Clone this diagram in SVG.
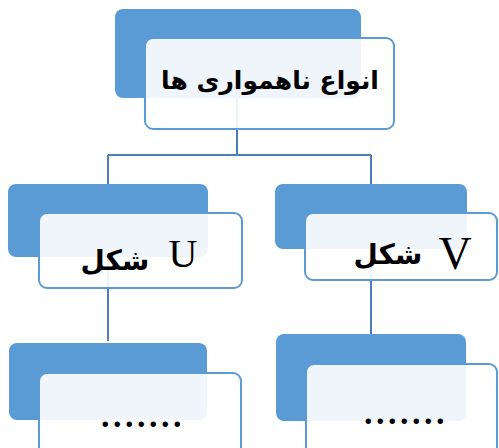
<svg xmlns="http://www.w3.org/2000/svg" width="499" height="448" viewBox="0 0 499 448">
<style>
.back{fill:#5B9BD5;}
.front{fill:#FFFFFF;fill-opacity:0.9;stroke:#5B9BD5;stroke-width:2;}
.conn{fill:none;stroke:#4A7EBB;stroke-width:2;}
.fa{font-family:"DejaVu Sans",sans-serif;font-weight:bold;fill:#000;}
.lat{font-family:"Liberation Serif",serif;fill:#000;}
.dots{font-family:"Liberation Serif",serif;font-weight:bold;font-size:34px;letter-spacing:3.5px;fill:#000;}
</style>
<rect width="499" height="448" fill="#FFFFFF"/>
<g id="connectors">
<path class="conn" d="M237,98 V155 M108,155 H371 M108,155 V184 M371,155 V184 M108,257 V341 M371,249 V334"/>
</g>
<g id="node-root">
<rect class="back" x="115" y="9" width="246" height="89" rx="8"/>
<rect class="front" x="145" y="38" width="249" height="91" rx="8"/>
<text class="fa" x="270" y="89" font-size="25" text-anchor="middle" direction="rtl">انواع ناهمواری ها</text>
</g>
<g id="node-u">
<rect class="back" x="8" y="184" width="200" height="73" rx="8"/>
<rect class="front" x="39" y="213" width="203" height="75" rx="8"/>
<text class="fa" x="115" y="270" font-size="28" text-anchor="middle" direction="rtl">شکل</text>
<text class="lat" x="183" y="267" font-size="40" text-anchor="middle">U</text>
</g>
<g id="node-v">
<rect class="back" x="275" y="184" width="192" height="65" rx="8"/>
<rect class="front" x="305" y="213" width="192" height="67" rx="8"/>
<text class="fa" x="388" y="264" font-size="28" text-anchor="middle" direction="rtl">شکل</text>
<text class="lat" x="455" y="269" font-size="46" text-anchor="middle">V</text>
</g>
<g id="node-u-child">
<rect class="back" x="9" y="343" width="198" height="77" rx="8"/>
<rect class="front" x="39" y="373" width="202" height="85" rx="8"/>
<text class="dots" x="101" y="427">.......</text>
</g>
<g id="node-v-child">
<rect class="back" x="276" y="334" width="190" height="87" rx="8"/>
<rect class="front" x="306" y="364" width="191" height="94" rx="8"/>
<text class="dots" x="364" y="424">.......</text>
</g>
</svg>
